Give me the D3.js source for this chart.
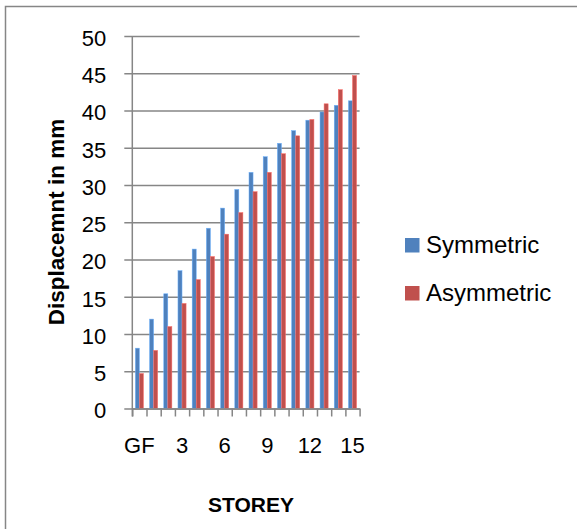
<!DOCTYPE html>
<html>
<head>
<meta charset="utf-8">
<script src="https://cdn.jsdelivr.net/npm/d3@7/dist/d3.min.js"></script>
<style>
  html, body { margin: 0; padding: 0; background: #fff; }
  svg { display: block; font-family: "Liberation Sans", Arial, sans-serif; }
</style>
</head>
<body>
<svg id="chart" width="577" height="529"></svg>
<script>
// Storey levels (ground floor + 15 storeys)
const storeys = ["GF", "1", "2", "3", "4", "5", "6", "7", "8", "9", "10", "11", "12", "13", "14", "15"];
// Lateral displacement (mm) per storey
const symmetric  = [8.1, 12.0, 15.4, 18.5, 21.4, 24.2, 26.9, 29.4, 31.7, 33.8, 35.6, 37.3, 38.7, 39.8, 40.7, 41.3];
const asymmetric = [4.7, 7.8, 11.0, 14.1, 17.3, 20.4, 23.4, 26.3, 29.1, 31.7, 34.2, 36.6, 38.8, 40.9, 42.8, 44.7];
const seriesNames = ["Symmetric", "Asymmetric"];
const seriesColors = ["#4F81BD", "#C0504D"];
const yTicks = [0, 5, 10, 15, 20, 25, 30, 35, 40, 45, 50];
const xTickLabels = ["GF", "3", "6", "9", "12", "15"];

const svg = d3.select("#chart");
const plot = { left: 132.3, right: 359.6, top: 36, bottom: 408.5 };
const gridColor = "#868686";

// Outer chart frame (runs past the right and bottom edges)
svg.append("rect")
  .attr("x", 5.5).attr("y", 6.5)
  .attr("width", 640).attr("height", 640)
  .attr("fill", "none").attr("stroke", gridColor).attr("stroke-width", 1.5);

const y = d3.scaleLinear().domain([0, 50]).range([plot.bottom, plot.top]);

const x0 = d3.scaleBand()
  .domain(storeys)
  .range([plot.left, plot.right])
  .paddingInner(0.4286)
  .paddingOuter(0.2143);

const x1 = d3.scaleBand()
  .domain(seriesNames)
  .range([0, x0.bandwidth()]);

// Horizontal gridlines with outside ticks
const yAxis = d3.axisLeft(y)
  .tickValues(yTicks)
  .tickSize(-(plot.right - plot.left))
  .tickSizeOuter(0)
  .tickPadding(26)
  .tickFormat(d3.format("d"));

const gy = svg.append("g")
  .attr("transform", `translate(${plot.left},0)`)
  .call(yAxis);
gy.select(".domain").remove();
gy.selectAll(".tick line")
  .attr("x1", -8)
  .attr("stroke", gridColor)
  .attr("stroke-width", 1.5);
gy.selectAll(".tick text")
  .attr("font-size", 22)
  .attr("fill", "#000")
  .attr("dy", "0.42em");

// Bars
const rows = storeys.map((s, i) => ({ storey: s, values: [symmetric[i], asymmetric[i]] }));
const groups = svg.append("g").selectAll("g")
  .data(rows)
  .join("g")
  .attr("transform", d => `translate(${x0(d.storey)},0)`);

groups.selectAll("rect")
  .data(d => d.values.map((v, k) => ({ name: seriesNames[k], value: v, color: seriesColors[k] })))
  .join("rect")
  .attr("x", d => x1(d.name))
  .attr("width", x1.bandwidth())
  .attr("y", d => y(d.value))
  .attr("height", d => y(0) - y(d.value))
  .attr("fill", d => d.color)
  .attr("stroke", d => d3.color(d.color).brighter(0.9))
  .attr("stroke-width", 0.5);

// Y axis line (extends down to the category ticks)
svg.append("line")
  .attr("x1", plot.left).attr("x2", plot.left)
  .attr("y1", plot.top).attr("y2", plot.bottom + 8)
  .attr("stroke", gridColor).attr("stroke-width", 1.5);

// X axis line and category boundary ticks
const xb = d3.scaleLinear().domain([0, storeys.length]).range([plot.left, plot.right]);
const xAxis = d3.axisBottom(xb)
  .tickValues(d3.range(storeys.length + 1))
  .tickSize(8)
  .tickSizeOuter(0)
  .tickFormat("");
const gx = svg.append("g")
  .attr("transform", `translate(0,${plot.bottom})`)
  .call(xAxis);
gx.select(".domain").attr("stroke", gridColor).attr("stroke-width", 1.5);
gx.selectAll(".tick line").attr("stroke", gridColor).attr("stroke-width", 1.5);

// Category labels (every third storey)
svg.append("g").selectAll("text")
  .data(xTickLabels)
  .join("text")
  .attr("x", d => x0(d) + x0.bandwidth() / 2)
  .attr("y", 452.5)
  .attr("text-anchor", "middle")
  .attr("font-size", 22)
  .attr("fill", "#000")
  .text(d => d);

// Axis titles
svg.append("text")
  .attr("x", 251)
  .attr("y", 512)
  .attr("text-anchor", "middle")
  .attr("font-size", 21)
  .attr("font-weight", "bold")
  .attr("fill", "#000")
  .text("STOREY");

svg.append("text")
  .attr("transform", "translate(64,222) rotate(-90)")
  .attr("text-anchor", "middle")
  .attr("font-size", 22.5)
  .attr("font-weight", "bold")
  .attr("fill", "#000")
  .text("Displacemnt in mm");

// Legend
const legend = svg.append("g").selectAll("g")
  .data(seriesNames)
  .join("g")
  .attr("transform", (d, i) => `translate(405,${238 + i * 48})`);
legend.append("rect")
  .attr("width", 14.5).attr("height", 14.5)
  .attr("fill", (d, i) => seriesColors[i]);
legend.append("text")
  .attr("x", 21)
  .attr("y", 15)
  .attr("font-size", 24)
  .attr("fill", "#000")
  .text(d => d);
</script>
</body>
</html>
